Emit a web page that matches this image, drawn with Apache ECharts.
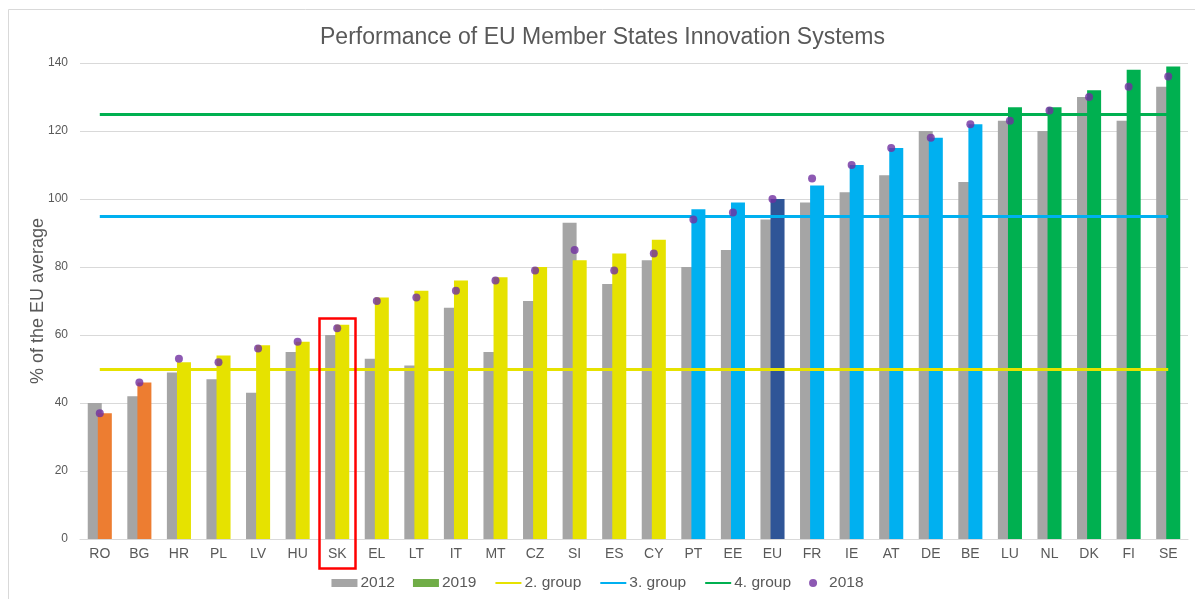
<!DOCTYPE html>
<html>
<head>
<meta charset="utf-8">
<script src="https://cdn.jsdelivr.net/npm/echarts@6/dist/echarts.min.js"></script>
<style>
html,body{margin:0;padding:0;background:#fff;}
#chart{width:1195px;height:599px;}
</style>
</head>
<body>
<div id="chart"></div>
<script>
// ---- data ----
var countries = ['RO','BG','HR','PL','LV','HU','SK','EL','LT','IT','MT','CZ','SI','ES','CY','PT','EE','EU','FR','IE','AT','DE','BE','LU','NL','DK','FI','SE'];
var values2012 = [40,42,49,47,43,55,60,53,51,68,55,70,93,75,82,80,85,94,99,102,107,120,105,123,120,130,123,133];
var values2019 = [37,46,52,54,57,58,63,71,73,76,77,80,82,84,88,97,99,100,104,110,115,118,122,127,127,132,138,139];
var values2018 = [37,46,53,52,56,58,62,70,71,73,76,79,85,79,84,94,96,100,106,110,115,118,122,123,126,130,133,136];
var groupOf = ['1','1','2','2','2','2','2','2','2','2','2','2','2','2','2','3','3','EU','3','3','3','3','3','4','4','4','4','4'];
var groupLevels = {'2. group':50,'3. group':95,'4. group':125};
var yTicks = [0,20,40,60,80,100,120,140];
var highlighted = 'SK';

// ---- styles ----
var groupColors = {'1':'#ED7D31','2':'#E6E200','3':'#00B0F0','EU':'#2F5597','4':'#00B050'};
var lineColors = {'2. group':'#E6E200','3. group':'#00B0F0','4. group':'#00B050'};

var chart = echarts.init(document.getElementById('chart'));
var font = '"Liberation Sans", Arial, sans-serif';

var data2019 = values2019.map(function(v,i){
  return {value:v, itemStyle:{color:groupColors[groupOf[i]]}};
});

function groupSeries(name){
  var lv = groupLevels[name];
  return {
    name:name, type:'line', data:[], symbol:'none', showSymbol:false,
    itemStyle:{color:lineColors[name]},
    lineStyle:{color:lineColors[name], width:3},
    markLine:{
      silent:true, symbol:'none', animation:false,
      label:{show:false},
      lineStyle:{color:lineColors[name], width:3, type:'solid'},
      emphasis:{disabled:true},
      data:[[{coord:[countries[0], lv]},{coord:[countries[countries.length-1], lv]}]]
    },
    z:3
  };
}

var option = {
  animation:false,
  backgroundColor:'#fff',
  textStyle:{fontFamily:font},
  title:{
    text:'Performance of EU Member States Innovation Systems',
    left:315, top:21,
    textStyle:{fontFamily:font, fontSize:23, fontWeight:'normal', color:'#595959'}
  },
  legend:{
    bottom:3, left:'center',
    itemGap:18, itemWidth:26, itemHeight:8,
    textStyle:{fontFamily:font, fontSize:15.5, color:'#595959', padding:[0,0,0,-2]},
    data:[
      {name:'2012', icon:'rect'},
      {name:'2019', icon:'rect'},
      {name:'2. group', itemStyle:{opacity:0}},
      {name:'3. group', itemStyle:{opacity:0}},
      {name:'4. group', itemStyle:{opacity:0}},
      {name:'2018', icon:'circle'}
    ]
  },
  grid:{left:80, right:7, top:63, bottom:60, containLabel:false},
  xAxis:{
    type:'category', data:countries,
    axisTick:{show:false},
    axisLine:{lineStyle:{color:'#D9D9D9', width:1}},
    axisLabel:{fontFamily:font, fontSize:14, color:'#595959', margin:8, interval:0}
  },
  yAxis:{
    type:'value', min:yTicks[0], max:yTicks[yTicks.length-1], interval:20,
    name:'% of the EU average', nameLocation:'middle', nameGap:33, nameMoveOverlap:false,
    nameTextStyle:{fontFamily:font, fontSize:18, color:'#595959'},
    axisLine:{show:false}, axisTick:{show:false},
    axisLabel:{fontFamily:font, fontSize:12, color:'#595959', margin:12},
    splitLine:{lineStyle:{color:'#D9D9D9', width:1}}
  },
  series:[
    {name:'2012', type:'bar', data:values2012, barWidth:14, barGap:'-28%',
      itemStyle:{color:'#A5A5A5'}, z:2},
    {name:'2019', type:'bar', data:data2019, barWidth:14,
      itemStyle:{color:'#70AD47'}, z:2},
    groupSeries('2. group'),
    groupSeries('3. group'),
    groupSeries('4. group'),
    {name:'2018', type:'scatter', data:values2018, symbol:'circle', symbolSize:8,
      itemStyle:{color:'#7030A0'}, z:5}
  ]
};
chart.setOption(option);

// chart frame + highlight box, positioned through the axes
var idx = countries.indexOf(highlighted);
var cx = chart.convertToPixel({xAxisIndex:0}, idx);
var yTop = chart.convertToPixel({yAxisIndex:0}, 65);
var yBase = chart.convertToPixel({yAxisIndex:0}, 0);
chart.setOption({
  graphic:[
    {type:'rect', shape:{x:8.5, y:9.5, width:1200, height:600}, style:{fill:'none', stroke:'#D9D9D9', lineWidth:1}, silent:true, z:-1},
    {type:'rect', shape:{x:Math.round(cx-18)+0.5, y:Math.round(yTop)+0.5, width:36, height:Math.round(yBase-yTop)+29},
      style:{fill:'none', stroke:'#FF0000', lineWidth:2.5}, silent:true, z:100}
  ]
});
</script>
</body>
</html>
